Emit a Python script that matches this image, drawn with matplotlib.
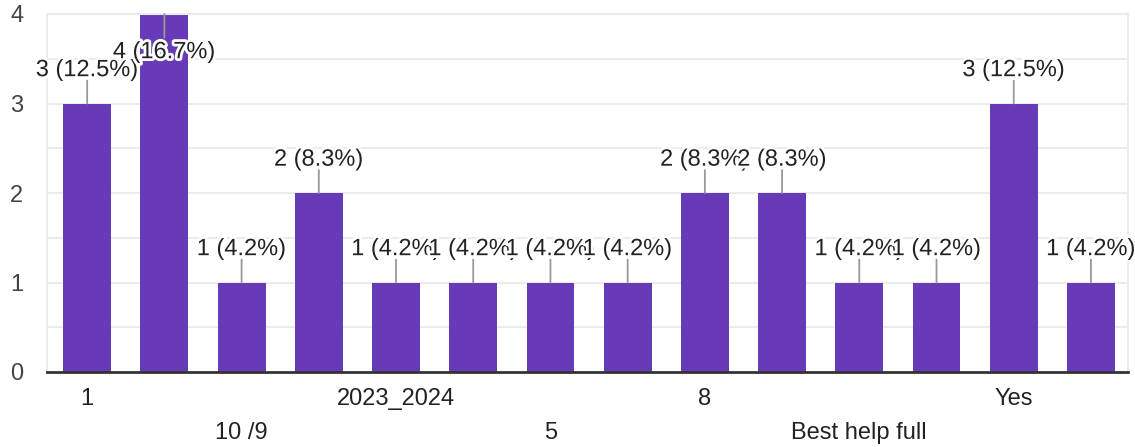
import numpy as np
import matplotlib.pyplot as plt
import matplotlib.patheffects as pe

plt.rcParams['font.family'] = ['Liberation Sans', 'DejaVu Sans']

# categories (only every other label is shown on the axis)
categories = ['1', '', '10 /9', '', '2023_2024', '', '5', '', '8', '', 'Best help full', '', 'Yes', '']
counts = [3, 4, 1, 2, 1, 1, 1, 1, 2, 2, 1, 1, 3, 1]
total = sum(counts)

bar_color = '#673ab7'
grid_color = '#ebebeb'
fs = 17

fig = plt.figure(figsize=(11.35, 4.47), dpi=100)
ax = fig.add_axes([47 / 1135, 75 / 447, (1128 - 47) / 1135, (372 - 14) / 447])

x = np.arange(len(counts))
ax.bar(x, counts, width=0.62, color=bar_color, zorder=2)

ax.set_xlim(-0.52, len(counts) - 0.52)
ax.set_ylim(0, 4)

# grid every 0.5
for g in np.arange(0.5, 4.01, 0.5):
    ax.axhline(g, color=grid_color, lw=1.5, zorder=0)

ax.set_yticks([0, 1, 2, 3, 4])
ax.tick_params(axis='y', length=0, labelsize=fs, labelcolor='#444444', pad=17)
ax.set_xticks([])

for s in ['left', 'right', 'top']:
    ax.spines[s].set_color(grid_color)
    ax.spines[s].set_linewidth(1.5)
ax.spines['bottom'].set_color('#333333')
ax.spines['bottom'].set_linewidth(2)
ax.spines['bottom'].set_zorder(3)

# staggered category labels under the axis
for i, name in enumerate(categories):
    if not name:
        continue
    row = (i // 2) % 2
    ax.annotate(name, (i, 0), xytext=(0, -19.5 - row * 24.5), textcoords='offset points',
                xycoords='data', ha='center', va='center', fontsize=fs,
                color='#222222', annotation_clip=False)

# value labels with leader lines
halo = [pe.withStroke(linewidth=4, foreground='white')]
for i, c in enumerate(counts):
    pct = c / total * 100
    label = f'{c} ({pct:.1f}%)'
    if c >= 4:
        line_off, text_off = -17, -27.5
    else:
        line_off, text_off = 16.5, 24
    ax.annotate('', (i, c), xytext=(0, line_off), textcoords='offset points',
                arrowprops=dict(arrowstyle='-', color='#999999', lw=1.3,
                                shrinkA=0, shrinkB=0), zorder=4 + i)
    ax.annotate(label, (i, c), xytext=(0, text_off), textcoords='offset points',
                ha='center', va='center', fontsize=fs, color='#222222',
                path_effects=halo, zorder=4 + i, annotation_clip=False)

fig.savefig('out.png', dpi=100)
